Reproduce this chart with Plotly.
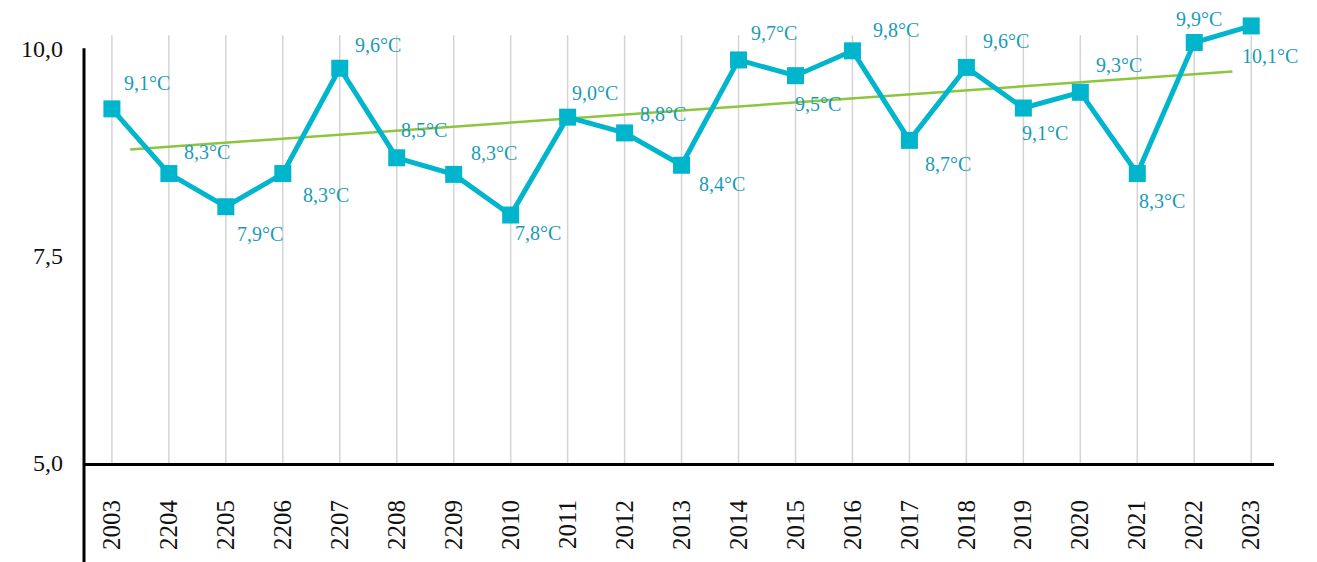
import plotly.graph_objects as go

# ---- data ----
years = ["2003", "2204", "2205", "2206", "2207", "2208", "2209", "2010", "2011", "2012",
         "2013", "2014", "2015", "2016", "2017", "2018", "2019", "2020", "2021", "2022", "2023"]
temps = [9.27, 8.49, 8.09, 8.49, 9.76, 8.68, 8.48, 7.99, 9.17, 8.98,
         8.59, 9.86, 9.67, 9.97, 8.89, 9.77, 9.28, 9.47, 8.49, 10.07, 10.27]
labels = ["9,1°C", "8,3°C", "7,9°C", "8,3°C", "9,6°C", "8,5°C", "8,3°C", "7,8°C", "9,0°C", "8,8°C",
          "8,4°C", "9,7°C", "9,5°C", "9,8°C", "8,7°C", "9,6°C", "9,1°C", "9,3°C", "8,3°C", "9,9°C", "10,1°C"]
trend_x = [0.32, 19.67]
trend_y = [8.78, 9.72]
y_ticks = [5.0, 7.5, 10.0]
y_ticktext = ["5,0", "7,5", "10,0"]

# label placement offsets (px, right / down)
label_off = [(35, -26), (38, -22), (34, 27), (43, 21), (38, -23), (27, -28), (40, -21),
             (27, 18), (27, -24), (38, -19), (40, 19), (35, -27), (23, 28), (44, -21),
             (39, 24), (40, -26), (22, 25), (39, -27), (25, 27), (5, -24), (19, 30)]

FONT = "Liberation Serif"
LINE = "#00b5cc"
LABEL = "#1a9cb7"

ymin, ymax = 5.0, 10.45
grid_top = 10.157
px_per_unit = 83.0
plot_h = (ymax - ymin) * px_per_unit
top_m = 463 - plot_h
bot_m = 562 - 463

xs = list(range(len(years)))
fig = go.Figure()

# vertical category gridlines (stop at the top of the original plot area)
for x in xs:
    fig.add_shape(type="line", xref="x", yref="y", x0=x, x1=x, y0=ymin, y1=grid_top,
                  line=dict(color="#d4d4d4", width=1.5), layer="below")

fig.add_trace(go.Scatter(x=trend_x, y=trend_y, mode="lines",
                         line=dict(color="#8cc63e", width=2.5), hoverinfo="skip",
                         showlegend=False))
fig.add_trace(go.Scatter(x=xs, y=temps, mode="lines+markers",
                         line=dict(color=LINE, width=5),
                         marker=dict(symbol="square", size=17, color=LINE),
                         cliponaxis=False, showlegend=False))

for i, (t, (dx, dy)) in enumerate(zip(labels, label_off)):
    fig.add_annotation(x=xs[i], y=temps[i], text=t, showarrow=False,
                       xshift=dx, yshift=-dy, xanchor="center", yanchor="middle",
                       font=dict(family=FONT, size=20, color=LABEL))

# vertical axis line extending below the horizontal axis
fig.add_shape(type="line", xref="paper", yref="paper",
              x0=0, x1=0, y0=-bot_m / plot_h, y1=(10.0 - ymin) / (ymax - ymin),
              line=dict(color="black", width=3))

fig.update_layout(
    width=1317, height=562,
    margin=dict(l=84, r=43, t=top_m, b=bot_m, pad=0),
    plot_bgcolor="white", paper_bgcolor="white",
    xaxis=dict(range=[-0.49, 20.4], tickmode="array", tickvals=xs, ticktext=years,
               tickangle=-90, showgrid=False,
               showline=True, linecolor="black", linewidth=3, zeroline=False,
               ticks="", ticklabelstandoff=24,
               tickfont=dict(family=FONT, size=25, color="#111")),
    yaxis=dict(range=[ymin, ymax], tickmode="array", tickvals=y_ticks, ticktext=y_ticktext,
               showgrid=False, zeroline=False, showline=False, ticks="",
               ticklabelstandoff=20,
               tickfont=dict(family=FONT, size=24, color="#111")),
)

fig.write_html("out.html")
